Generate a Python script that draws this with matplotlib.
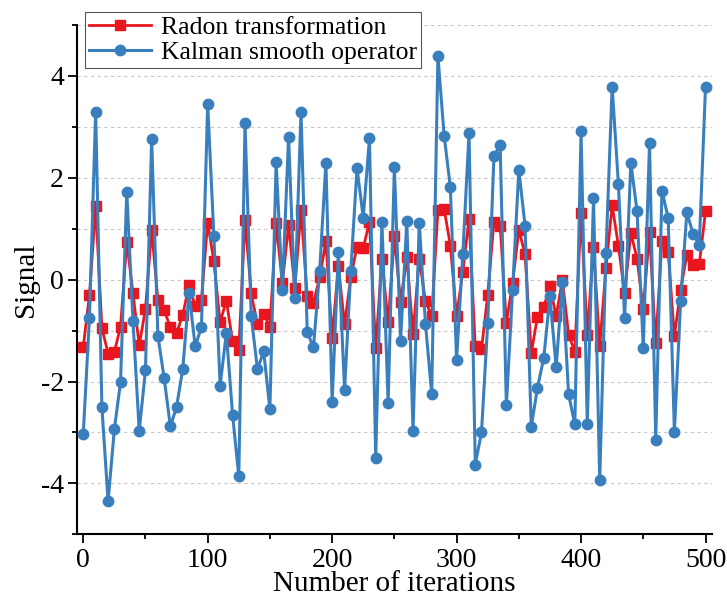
import matplotlib
matplotlib.use("Agg")
import matplotlib.pyplot as plt
from matplotlib.ticker import MultipleLocator

plt.rcParams['font.family'] = ['Liberation Serif', 'DejaVu Serif']
plt.rcParams['axes.unicode_minus'] = False

iterations = list(range(0, 501, 5))

radon = [-1.32, -0.31, 1.44, -0.95, -1.45, -1.42, -0.92, 0.74, -0.27, -1.29,
         -0.58, 0.98, -0.40, -0.60, -0.93, -1.05, -0.69, -0.11, -0.52, -0.39,
         1.12, 0.36, -0.84, -0.41, -1.21, -1.39, 1.18, -0.27, -0.88, -0.67,
         -0.93, 1.11, -0.07, 1.08, -0.16, 1.36, -0.33, -0.46, 0.05, 0.75,
         -1.14, 0.26, -0.88, 0.05, 0.65, 0.62, 1.14, -1.35, 0.41, -0.84,
         0.85, -0.44, 0.44, -1.06, 0.41, -0.42, -0.72, 1.36, 1.39, 0.67,
         -0.72, 0.16, 1.20, -1.31, -1.37, -0.30, 1.13, 1.06, -0.85, -0.07,
         0.98, 0.50, -1.44, -0.73, -0.54, -0.13, -0.72, 0.00, -1.08, -1.42,
         1.31, -1.08, 0.65, -1.31, 0.23, 1.46, 0.67, -0.27, 0.92, 0.41,
         -0.58, 0.93, -1.25, 0.75, 0.54, -1.11, -0.20, 0.49, 0.29, 0.31,
         1.34]

kalman = [-3.04, -0.76, 3.30, -2.50, -4.35, -2.94, -2.01, 1.73, -0.82, -2.97,
          -1.78, 2.76, -1.10, -1.93, -2.88, -2.50, -1.75, -0.26, -1.31, -0.93,
          3.45, 0.85, -2.08, -1.05, -2.65, -3.86, 3.07, -0.72, -1.76, -1.41,
          -2.54, 2.32, -0.21, 2.80, -0.36, 3.29, -1.03, -1.33, 0.18, 2.30,
          -2.41, 0.54, -2.16, 0.18, 2.19, 1.22, 2.78, -3.50, 1.14, -2.42,
          2.21, -1.20, 1.16, -2.97, 1.11, -0.87, -2.24, 4.39, 2.83, 1.81,
          -1.57, 0.51, 2.88, -3.63, -3.00, -0.86, 2.42, 2.65, -2.47, -0.20,
          2.16, 1.06, -2.89, -2.12, -1.54, -0.33, -1.72, -0.05, -2.25, -2.84,
          2.91, -2.84, 1.60, -3.94, 0.52, 3.79, 1.88, -0.75, 2.30, 1.34,
          -1.34, 2.69, -3.14, 1.75, 1.21, -2.99, -0.42, 1.32, 0.90, 0.69,
          3.78]

fig = plt.figure(figsize=(7.27, 6.06), dpi=100)
ax = fig.add_axes([0.1059, 0.1183, 0.979 - 0.1059, 0.9587 - 0.1183])

red = '#e8171f'
blue = '#3a7fbd'

ax.plot(iterations, radon, color=red, lw=2.0, marker='s', ms=6.5,
        mec=red, mfc=red, label='Radon transformation', zorder=3)
ax.plot(iterations, kalman, color=blue, lw=2.2, marker='o', ms=7.5,
        mec=blue, mfc=blue, label='Kalman smooth operator', zorder=4)

ax.set_xlim(-5, 505)
ax.set_ylim(-5, 5)
ax.xaxis.set_major_locator(MultipleLocator(100))
ax.xaxis.set_minor_locator(MultipleLocator(50))
ax.yaxis.set_major_locator(MultipleLocator(2))
ax.yaxis.set_minor_locator(MultipleLocator(1))

ax.yaxis.grid(True, which='both', ls=(0, (3, 3)), color='#c8c8c8', lw=0.8)
ax.set_axisbelow(True)

for s in ('top', 'right'):
    ax.spines[s].set_visible(False)
for s in ('left', 'bottom'):
    ax.spines[s].set_linewidth(1.5)

ax.tick_params(which='major', direction='out', length=6.5, width=1.3,
               labelsize=20, pad=3)
ax.tick_params(which='minor', direction='out', length=3.5, width=1.3)

ax.set_xlabel('Number of iterations', fontsize=21, labelpad=-1)
ax.set_ylabel('Signal', fontsize=21, labelpad=1)

leg = ax.legend(loc='upper left', bbox_to_anchor=(85 / 727, 1 - 12 / 606),
                bbox_transform=fig.transFigure, fontsize=18.5, frameon=True,
                fancybox=False, edgecolor='#555555', framealpha=1,
                handlelength=2.4, handletextpad=0.4, borderpad=0.15,
                labelspacing=0.1, borderaxespad=0)
leg.get_frame().set_linewidth(0.8)
leg.set_zorder(10)

fig.savefig('out.png', dpi=100)
